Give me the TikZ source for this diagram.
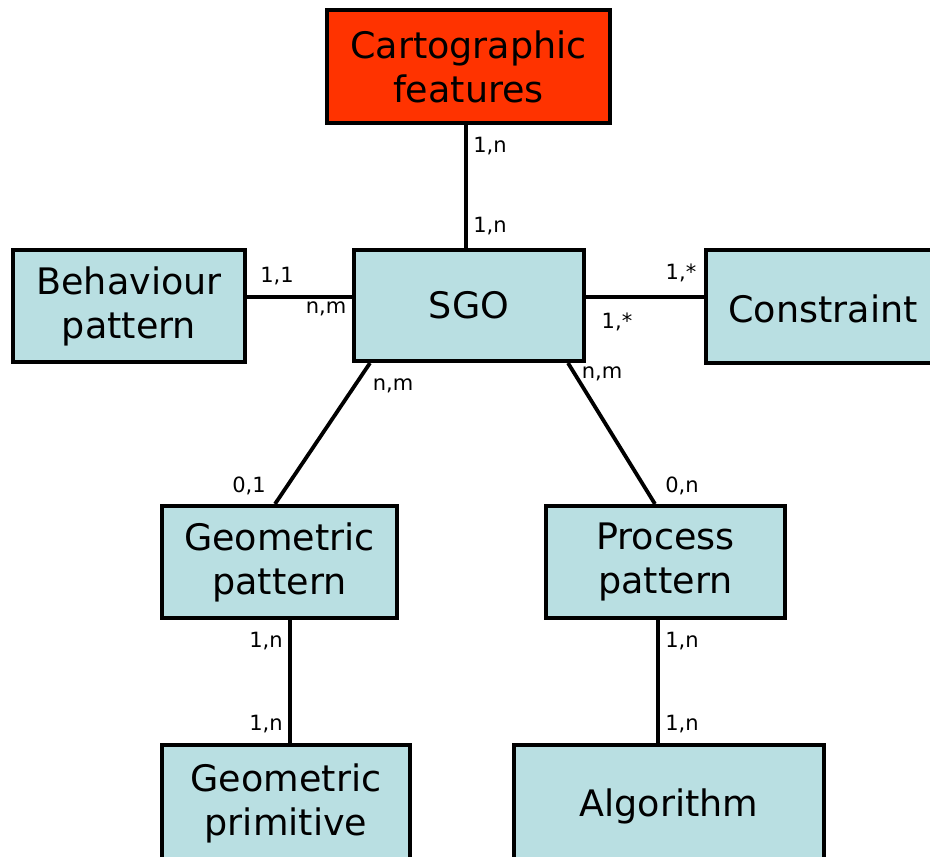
\documentclass[tikz,border=0pt]{standalone}
\usepackage{fontspec}
\setmainfont{DejaVu Sans}
\usetikzlibrary{calc}
\definecolor{boxblue}{RGB}{185,223,226}
\definecolor{boxred}{RGB}{255,51,0}
\tikzset{
  bigtext/.style={font=\fontsize{36.5}{44}\selectfont},
  entity/.style={draw=black, line width=4pt, fill=boxblue, align=center,
    inner sep=0pt, bigtext},
  conn/.style={draw=black, line width=4.2pt},
  card/.style={inner sep=0pt, font=\fontsize{21}{22}\selectfont}
}
\begin{document}
\begin{tikzpicture}[x=1pt,y=-1pt]
\useasboundingbox (0,0) rectangle (930,857);
\node[entity, fill=boxred, minimum width=283pt, minimum height=113pt] (carto) at (468.5,66.5) {Cartographic\\features};
\node[entity, minimum width=232pt, minimum height=112pt] (behav) at (129,306) {Behaviour\\pattern};
\node[entity, minimum width=230pt, minimum height=111pt] (sgo) at (469,305.5) {SGO};
\node[entity, minimum width=232pt, minimum height=113pt] (constr) at (822,306.5) {};
\node[bigtext, inner sep=0pt] (constrtext) at (823,309) {Constraint};
\node[entity, minimum width=235pt, minimum height=112pt] (geompat) at (279.5,562) {Geometric\\pattern};
\node[entity, minimum width=239pt, minimum height=112pt] (procpat) at (665.5,562) {Process\\pattern};
\node[entity, minimum width=248pt, minimum height=122pt] (geomprim) at (286,806) {};
\node[bigtext, align=center, inner sep=0pt] (geomprimtext) at (286,803) {Geometric\\primitive};
\node[entity, minimum width=310pt, minimum height=122pt] (algo) at (669,806) {};
\node[bigtext, inner sep=0pt] (algotext) at (669,806) {Algorithm};

\draw[conn] ($(carto.south)+(-2.5,0)$) -- ($(sgo.north)+(-3,0)$);
\draw[conn] ($(behav.east)+(0,-9)$) -- ($(sgo.west)+(0,-8.5)$);
\draw[conn] ($(sgo.east)+(0,-8.5)$) -- ($(constr.west)+(0,-9.5)$);
\draw[conn, line width=3.8pt] ($(sgo.south)+(-99,0)$) -- ($(geompat.north)+(-4.5,0)$);
\draw[conn, line width=3.8pt] ($(sgo.south)+(99,0)$) -- ($(procpat.north)+(-10.5,0)$);
\draw[conn] ($(geompat.south)+(10.5,0)$) -- ($(geomprim.north)+(4,0)$);
\draw[conn] ($(procpat.south)+(-7.5,0)$) -- ($(algo.north)+(-11,0)$);

\node[card] (c1) at (490,146) {1,n};
\node[card] (c2) at (490,226) {1,n};
\node[card] (c3) at (277,276) {1,1};
\node[card] (c4) at (326,309) {n,m};
\node[card] (c5) at (681,273) {1,*};
\node[card] (c6) at (617,322) {1,*};
\node[card] (c7) at (393,386) {n,m};
\node[card] (c8) at (602,374) {n,m};
\node[card] (c9) at (249,486) {0,1};
\node[card] (c10) at (682,486) {0,n};
\node[card] (c11) at (266,641) {1,n};
\node[card] (c12) at (266,724) {1,n};
\node[card] (c13) at (682,641) {1,n};
\node[card] (c14) at (682,724) {1,n};
\end{tikzpicture}
\end{document}
